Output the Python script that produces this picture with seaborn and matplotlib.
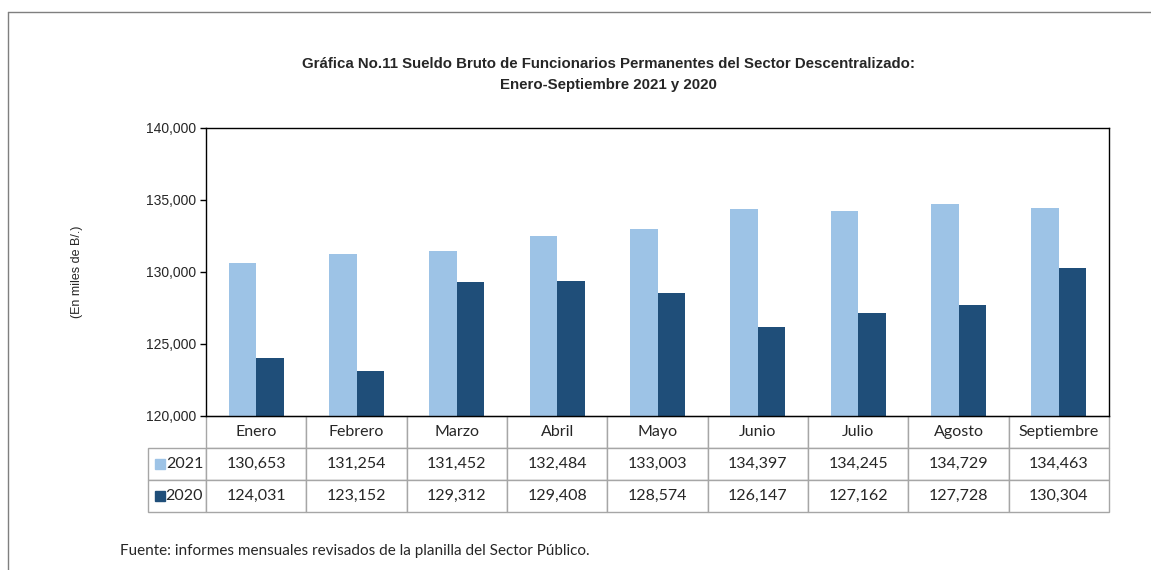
import pandas as pd
import matplotlib.pyplot as plt
import seaborn as sns
from matplotlib.lines import Line2D
from matplotlib.patches import Rectangle
from matplotlib.ticker import FuncFormatter

meses = ["Enero", "Febrero", "Marzo", "Abril", "Mayo", "Junio", "Julio", "Agosto", "Septiembre"]
v2021 = [130653, 131254, 131452, 132484, 133003, 134397, 134245, 134729, 134463]
v2020 = [124031, 123152, 129312, 129408, 128574, 126147, 127162, 127728, 130304]
anios = ["2021", "2020"]
colores = ["#9DC3E6", "#1F4E79"]

df = pd.DataFrame({
    "mes": meses * 2,
    "valor": v2021 + v2020,
    "anio": ["2021"] * len(meses) + ["2020"] * len(meses),
})

sns.set_style("white")
plt.rcParams["font.family"] = ["Liberation Sans", "DejaVu Sans"]

fig = plt.figure(figsize=(11.51, 5.70), dpi=100)
ax = fig.add_axes([206 / 1151, 1 - 416 / 570, 903 / 1151, 288 / 570])

sns.barplot(data=df, x="mes", y="valor", hue="anio", hue_order=anios,
            palette=colores, width=0.55, ax=ax, legend=False, saturation=1,
            linewidth=0)

ax.set_ylim(120000, 140000)
ax.set_xlim(-0.5, len(meses) - 0.5)
ax.set_yticks(range(120000, 140001, 5000))
ax.yaxis.set_major_formatter(FuncFormatter(lambda v, p: f"{int(v):,}"))
ax.tick_params(axis="y", left=True, length=4, width=1, color="black", labelsize=10, pad=3)
ax.tick_params(axis="x", bottom=False, labelbottom=False)
ax.set_xlabel("")
ax.set_ylabel("")
for s in ax.spines.values():
    s.set_color("black")
    s.set_linewidth(1)

# tabla de datos
celdas = [[""] + meses,
          ["2021"] + [f"{v:,}" for v in v2021],
          ["2020"] + [f"{v:,}" for v in v2020]]
anchos = [58 / 961] + [903 / 9 / 961] * 9
tabla = ax.table(cellText=celdas, colWidths=anchos, cellLoc="center",
                 bbox=[-58 / 903, -96 / 288, 961 / 903, 96 / 288])
tabla.auto_set_font_size(False)
for (r, c), cell in tabla.get_celld().items():
    cell.set_edgecolor("#A6A6A6")
    cell.set_linewidth(1)
    cell.get_text().set_fontfamily("Lato")
    cell.get_text().set_fontsize(11.5)
    if r == 0 and c == 0:
        cell.visible_edges = ""
    if c == 0 and r > 0:
        cell.get_text().set_ha("right")
        cell._loc = "right"
        cell.PAD = 0.05

# marcadores de leyenda en la tabla
for i, col in enumerate(colores):
    y0 = 1 - (448 + 32 * i + 11) / 570
    fig.add_artist(Rectangle((155 / 1151, y0 - 10 / 570), 10 / 1151, 10 / 570,
                             transform=fig.transFigure, color=col))

fig.text(608 / 1151, 1 - 64 / 570,
         "Gráfica No.11 Sueldo Bruto de Funcionarios Permanentes del Sector Descentralizado:",
         ha="center", va="center", fontsize=10.8, fontweight="bold")
fig.text(608 / 1151, 1 - 85 / 570, "Enero-Septiembre 2021 y 2020",
         ha="center", va="center", fontsize=10.8, fontweight="bold")
fig.text(77 / 1151, 1 - 272 / 570, "(En miles de B/.)", rotation=90,
         ha="center", va="center", fontsize=9)
fig.text(120 / 1151, 1 - 551 / 570,
         "Fuente: informes mensuales revisados de la planilla del Sector Público.",
         ha="left", va="center", fontsize=11, fontfamily="Lato")

# marco exterior
fig.add_artist(Line2D([8 / 1151, 8 / 1151], [0, 1 - 12 / 570], transform=fig.transFigure,
                      color="#7F7F7F", lw=1))
fig.add_artist(Line2D([8 / 1151, 1], [1 - 12 / 570, 1 - 12 / 570], transform=fig.transFigure,
                      color="#7F7F7F", lw=1))

fig.savefig("out.png", dpi=100)
